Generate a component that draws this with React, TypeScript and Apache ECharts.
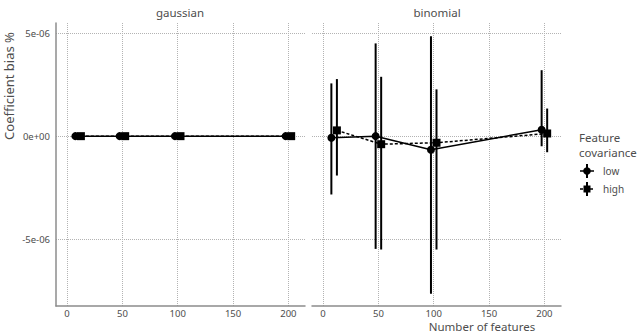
import React, { useEffect, useRef } from "react";
import * as echarts from "echarts";

const panels = ["gaussian", "binomial"];
const features = [10, 50, 100, 200];
const xTicks = [0, 50, 100, 150, 200];
const yTicks = [-5e-6, 0, 5e-6];
const yTickLabels = ["-5e-06", "0e+00", "5e-06"];

const gaussianLowMean = [0, 0, 0, 0];
const gaussianLowLo = [-2e-8, -2e-8, -2e-8, -2e-8];
const gaussianLowHi = [2e-8, 2e-8, 2e-8, 2e-8];
const gaussianHighMean = [0, 0, 0, 0];
const gaussianHighLo = [-2e-8, -2e-8, -2e-8, -2e-8];
const gaussianHighHi = [2e-8, 2e-8, 2e-8, 2e-8];

const binomialLowMean = [-0.08e-6, 0.0, -0.66e-6, 0.31e-6];
const binomialLowLo = [-2.83e-6, -5.47e-6, -7.64e-6, -0.49e-6];
const binomialLowHi = [2.56e-6, 4.5e-6, 4.85e-6, 3.2e-6];
const binomialHighMean = [0.28e-6, -0.39e-6, -0.32e-6, 0.13e-6];
const binomialHighLo = [-1.91e-6, -5.5e-6, -5.5e-6, -0.78e-6];
const binomialHighHi = [2.77e-6, 2.88e-6, 2.27e-6, 1.34e-6];

const FONT = "Noto Sans";
const DODGE = 2.5;

function errorSeries(idx: number, xs: number[], lo: number[], hi: number[]) {
  return {
    type: "custom",
    xAxisIndex: idx,
    yAxisIndex: idx,
    data: xs.map((x, i) => [x, lo[i], hi[i]]),
    encode: { x: 0, y: [1, 2] },
    renderItem: (params: any, api: any) => {
      const p1 = api.coord([api.value(0), api.value(1)]);
      const p2 = api.coord([api.value(0), api.value(2)]);
      return {
        type: "line",
        shape: { x1: p1[0], y1: p1[1], x2: p2[0], y2: p2[1] },
        style: { stroke: "#000", lineWidth: 2 },
      };
    },
    z: 2,
  };
}

function lineSeries(idx: number, xs: number[], ys: number[], high: boolean) {
  return {
    type: "line",
    xAxisIndex: idx,
    yAxisIndex: idx,
    data: xs.map((x, i) => [x, ys[i]]),
    symbol: high ? "rect" : "circle",
    symbolSize: 8,
    showSymbol: true,
    itemStyle: { color: "#000" },
    lineStyle: { color: "#000", width: 1.5, type: high ? [3, 2] : "solid" },
    z: 3,
  };
}

export default function App() {
  const ref = useRef<HTMLDivElement>(null);
  useEffect(() => {
    if (!ref.current) return;
    const chart = echarts.init(ref.current, null, { renderer: "svg" });
    const lowX = features.map((f) => f - DODGE);
    const highX = features.map((f) => f + DODGE);
    const grids = [
      { left: 56, top: 23, width: 249, height: 283 },
      { left: 312, top: 23, width: 249, height: 283 },
    ];
    const xAxes = grids.map((_, i) => ({
      type: "value",
      gridIndex: i,
      min: -10,
      max: 215,
      axisLine: { show: true, onZero: false, lineStyle: { color: "#8c8c8c", width: 1.5 } },
      axisTick: { show: false, customValues: xTicks },
      axisLabel: {
        customValues: xTicks,
        color: "#4d4d4d",
        fontFamily: FONT,
        fontSize: 9.5,
        lineHeight: 10,
        margin: 2,
      },
      splitLine: { show: true, lineStyle: { color: "#b3b3b3", type: "dotted", width: 1 } },
    }));
    const yAxes = grids.map((_, i) => ({
      type: "value",
      gridIndex: i,
      min: -8.24e-6,
      max: 5.49e-6,
      axisLine: { show: i === 0, onZero: false, lineStyle: { color: "#8c8c8c", width: 1.5 } },
      axisTick: { show: false, customValues: yTicks },
      axisLabel: {
        show: i === 0,
        customValues: yTicks,
        formatter: (v: number) => {
          const k = yTicks.findIndex((t) => Math.abs(t - v) < 1e-9);
          return k >= 0 ? yTickLabels[k] : "";
        },
        color: "#4d4d4d",
        fontFamily: FONT,
        fontSize: 9.5,
        margin: 6,
      },
      splitLine: { show: true, lineStyle: { color: "#b3b3b3", type: "dotted", width: 1 } },
    }));
    const legendItems = [
      { label: "low", y: 171, high: false },
      { label: "high", y: 189, high: true },
    ];
    const graphic: any[] = [
      { type: "text", x: 180, y: 12, style: { text: panels[0], font: `11.5px ${FONT}`, fill: "#4d4d4d", align: "center", verticalAlign: "middle" } },
      { type: "text", x: 437, y: 12, style: { text: panels[1], font: `11.5px ${FONT}`, fill: "#4d4d4d", align: "center", verticalAlign: "middle" } },
      { type: "text", x: 9, y: 86, rotation: Math.PI / 2, style: { text: "Coefficient bias %", font: `13px ${FONT}`, fill: "#4d4d4d", align: "center", verticalAlign: "middle" } },
      { type: "text", x: 482, y: 326, style: { text: "Number of features", fontFamily: FONT, fontSize: 11.5, lineHeight: 12, fill: "#4d4d4d", align: "center", verticalAlign: "middle" } },
      { type: "text", x: 579, y: 137, style: { text: "Feature", font: `11.5px ${FONT}`, fill: "#4d4d4d", align: "left", verticalAlign: "middle" } },
      { type: "text", x: 579, y: 152, style: { text: "covariance", font: `11.5px ${FONT}`, fill: "#4d4d4d", align: "left", verticalAlign: "middle" } },
    ];
    legendItems.forEach((it) => {
      graphic.push({ type: "line", shape: { x1: 580, y1: it.y, x2: 594, y2: it.y }, style: { stroke: "#000", lineWidth: 1.5, lineDash: it.high ? [3, 2] : null } });
      graphic.push({ type: "line", shape: { x1: 587, y1: it.y - 7, x2: 587, y2: it.y + 7 }, style: { stroke: "#000", lineWidth: 2 } });
      if (it.high) {
        graphic.push({ type: "rect", shape: { x: 583.5, y: it.y - 3.5, width: 7, height: 7 }, style: { fill: "#000" } });
      } else {
        graphic.push({ type: "circle", shape: { cx: 587, cy: it.y, r: 3.8 }, style: { fill: "#000" } });
      }
      graphic.push({ type: "text", x: 603, y: it.y, style: { text: it.label, font: `10px ${FONT}`, fill: "#4d4d4d", align: "left", verticalAlign: "middle" } });
    });

    chart.setOption({
      animation: false,
      backgroundColor: "#fff",
      grid: grids,
      xAxis: xAxes,
      yAxis: yAxes,
      graphic,
      series: [
        errorSeries(0, lowX, gaussianLowLo, gaussianLowHi),
        errorSeries(0, highX, gaussianHighLo, gaussianHighHi),
        lineSeries(0, lowX, gaussianLowMean, false),
        lineSeries(0, highX, gaussianHighMean, true),
        errorSeries(1, lowX, binomialLowLo, binomialLowHi),
        errorSeries(1, highX, binomialHighLo, binomialHighHi),
        lineSeries(1, lowX, binomialLowMean, false),
        lineSeries(1, highX, binomialHighMean, true),
      ],
    });
    return () => chart.dispose();
  }, []);
  return <div ref={ref} style={{ width: 640, height: 333, position: "absolute", left: 0, top: 0 }} />;
}
